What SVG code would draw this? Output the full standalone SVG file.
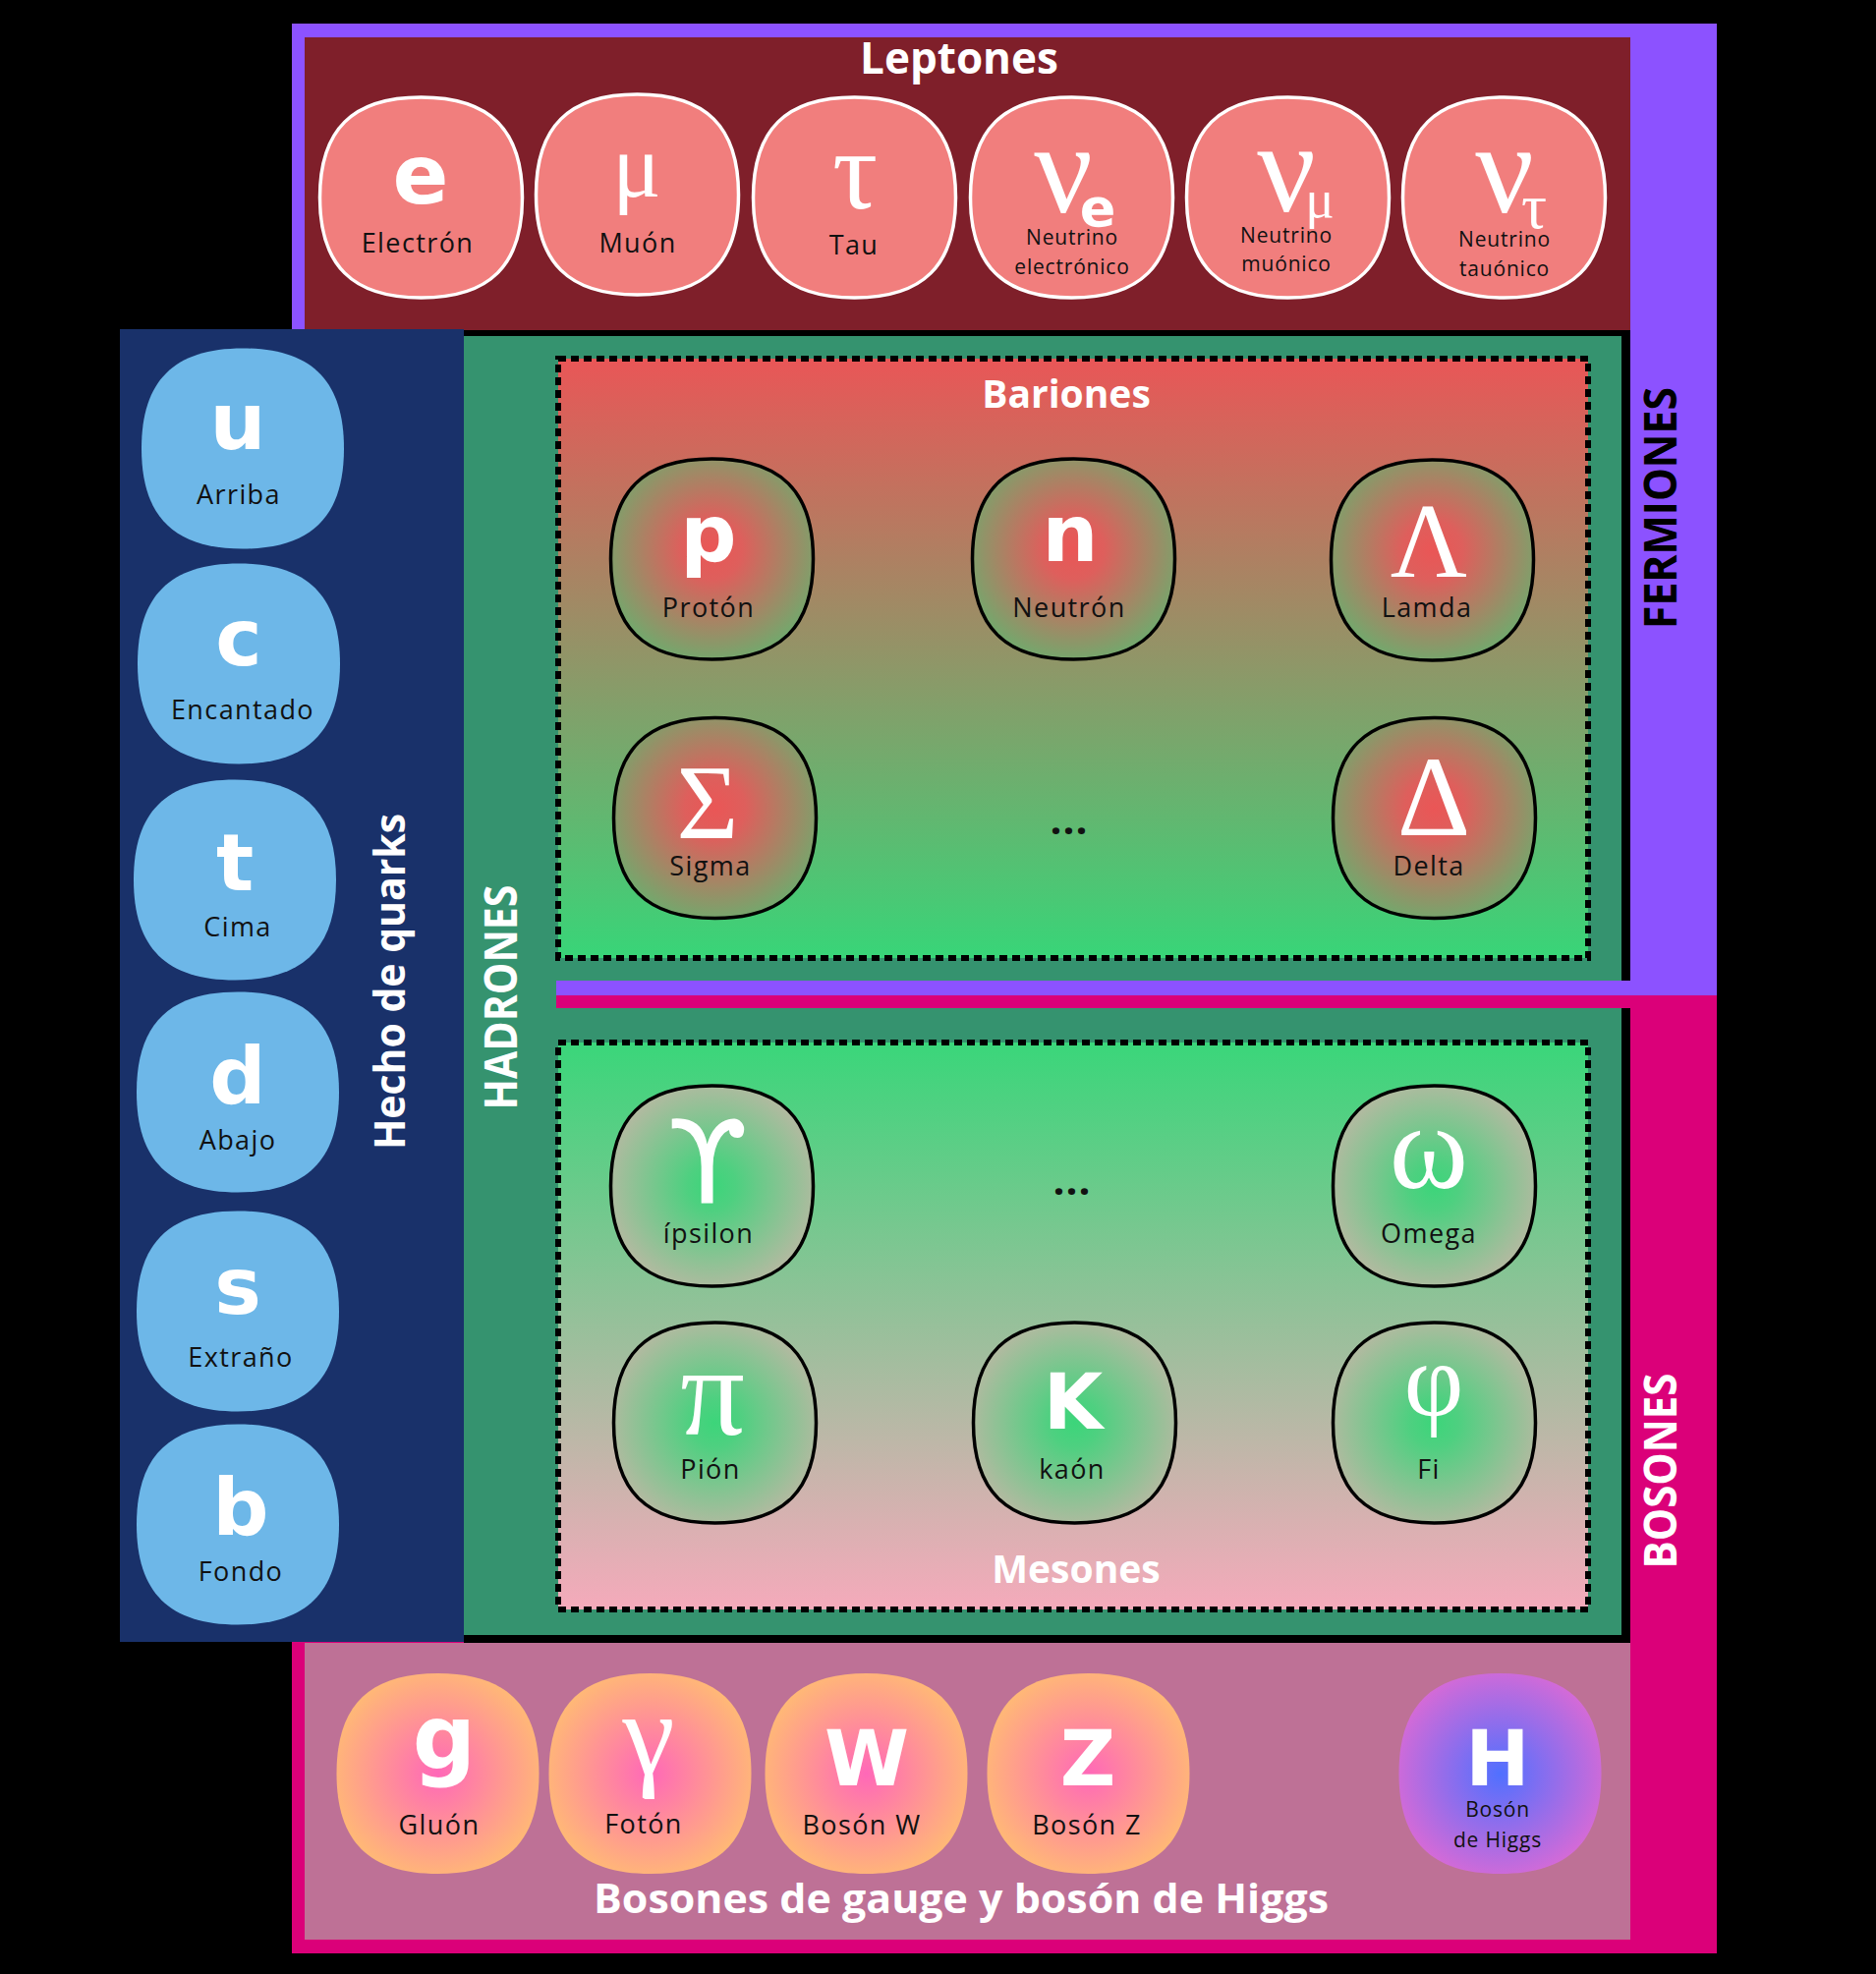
<svg xmlns="http://www.w3.org/2000/svg" width="1909" height="2009" viewBox="0 0 1909 2009">
<defs>
<linearGradient id="gBar" x1="0" y1="0" x2="0" y2="1"><stop offset="0" stop-color="#E95657"/><stop offset="1" stop-color="#38D578"/></linearGradient>
<linearGradient id="gMes" x1="0" y1="0" x2="0" y2="1"><stop offset="0" stop-color="#3AD67A"/><stop offset="1" stop-color="#F5AABB"/></linearGradient>
<radialGradient id="rBar" cx="0.5" cy="0.45" r="0.6"><stop offset="0" stop-color="#EA5656"/><stop offset="0.25" stop-color="#DE5F5C"/><stop offset="1" stop-color="#6AAE6E"/></radialGradient>
<radialGradient id="rMes" cx="0.5" cy="0.5" r="0.6"><stop offset="0" stop-color="#3CD57A"/><stop offset="0.2" stop-color="#4ED080"/><stop offset="1" stop-color="#C4B6A6"/></radialGradient>
<radialGradient id="rGauge" cx="0.5" cy="0.5" r="0.55"><stop offset="0" stop-color="#FF68B8"/><stop offset="1" stop-color="#FFBB74"/></radialGradient>
<radialGradient id="rHiggs" cx="0.5" cy="0.5" r="0.55"><stop offset="0" stop-color="#5070FF"/><stop offset="1" stop-color="#D86AD6"/></radialGradient>
<path id="sq" d="M0,-102 c70,0 103,33 103,102 c0,69 -33,102 -103,102 c-70,0 -103,-33 -103,-102 c0,-69 33,-102 103,-102 Z"/>
</defs>
<style>
.lep{fill:#F17E7D;stroke:#FFFFFF;stroke-width:3.5}
.qk{fill:#6DB7E8}
.bar{fill:url(#rBar);stroke:#000;stroke-width:3.5}
.mes{fill:url(#rMes);stroke:#000;stroke-width:3.5}
.gau{fill:url(#rGauge)}
.hig{fill:url(#rHiggs)}
.lbl{font-family:"Open Sans","Noto Sans",sans-serif;font-size:27px;fill:#111;text-anchor:middle;letter-spacing:1.4px}
.sm{font-size:21px;letter-spacing:0.8px}
.sym{font-family:"DejaVu Sans",sans-serif;font-weight:bold;fill:#fff;text-anchor:middle}
.gk{font-family:"Liberation Serif","DejaVu Serif",serif;fill:#fff;text-anchor:middle}
.ttl{font-family:"Open Sans","Noto Sans",sans-serif;font-weight:bold;fill:#fff;text-anchor:middle}
.dash{stroke:#000;stroke-width:6;stroke-dasharray:8 5}
.dots{font-family:"Open Sans",sans-serif;font-weight:bold;font-size:42px;fill:#111;text-anchor:middle;letter-spacing:1px}
</style>
<rect width="1909" height="2009" fill="#000"/>
<g id="frames">
<rect x="297" y="24" width="1450" height="989" fill="#8C52FF"/>
<rect x="297" y="1013" width="1450" height="975" fill="#DB0079"/>
<rect x="310" y="38" width="1349" height="298" fill="#7F1F2A"/>
<rect x="472" y="336" width="1187" height="1336" fill="#000"/>
<rect x="472" y="342" width="1178" height="1322" fill="#35936F"/>
<rect x="122" y="335" width="350" height="1336" fill="#19316A"/>
<rect x="310" y="1672" width="1349" height="302" fill="#BE7196"/>
<rect x="566" y="998" width="1181" height="15" fill="#8C52FF"/>
<rect x="566" y="1013" width="1181" height="13" fill="#DB0079"/>
<rect x="568" y="365" width="1048" height="610" fill="url(#gBar)" class="dash"/>
<rect x="568" y="1061" width="1048" height="577" fill="url(#gMes)" class="dash"/>
</g>
<g id="titles">
<text class="ttl" x="976" y="75" font-size="44">Leptones</text>
<text class="ttl" x="1085" y="415" font-size="39">Bariones</text>
<text class="ttl" x="1095" y="1611" font-size="39">Mesones</text>
<text class="ttl" x="978" y="1947" font-size="42" textLength="748" lengthAdjust="spacingAndGlyphs">Bosones de gauge y bosón de Higgs</text>
<text class="ttl" transform="translate(412,999) rotate(-90)" font-size="43" textLength="342" lengthAdjust="spacingAndGlyphs">Hecho de quarks</text>
<text class="ttl" transform="translate(526,1015) rotate(-90)" font-size="47" textLength="229" lengthAdjust="spacingAndGlyphs">HADRONES</text>
<text class="ttl" transform="translate(1706,517) rotate(-90)" font-size="47" style="fill:#000" textLength="246" lengthAdjust="spacingAndGlyphs">FERMIONES</text>
<text class="ttl" transform="translate(1706,1497) rotate(-90)" font-size="47" textLength="199" lengthAdjust="spacingAndGlyphs">BOSONES</text>
</g>
<g id="leptones">
<g id="n-electron"><use href="#sq" class="lep" x="428.5" y="201"/><text class="sym" x="428" y="207" font-size="84">e</text><text class="lbl" x="425" y="257">Electrón</text></g>
<g id="n-muon"><use href="#sq" class="lep" x="648.5" y="198"/><text class="gk" x="648" y="200" font-size="92">μ</text><text class="lbl" x="649" y="257">Muón</text></g>
<g id="n-tau"><use href="#sq" class="lep" x="869.5" y="201"/><text class="gk" x="870" y="212" font-size="115">τ</text><text class="lbl" x="869" y="259">Tau</text></g>
<g id="n-nue"><use href="#sq" class="lep" x="1090.5" y="201"/><text class="gk" x="1082" y="216" font-size="132">ν</text><text class="sym" x="1117" y="230" font-size="54">e</text><text class="lbl sm" x="1091" y="249">Neutrino</text><text class="lbl sm" x="1091" y="279">electrónico</text></g>
<g id="n-numu"><use href="#sq" class="lep" x="1310.5" y="201"/><text class="gk" x="1309" y="215" font-size="132">ν</text><text class="gk" x="1343" y="221" font-size="55">μ</text><text class="lbl sm" x="1309" y="247">Neutrino</text><text class="lbl sm" x="1309" y="276">muónico</text></g>
<g id="n-nutau"><use href="#sq" class="lep" x="1530.5" y="201"/><text class="gk" x="1531" y="216" font-size="132">ν</text><text class="gk" x="1561" y="232" font-size="65">τ</text><text class="lbl sm" x="1531" y="251">Neutrino</text><text class="lbl sm" x="1531" y="281">tauónico</text></g>
</g>
<g id="quarks">
<g id="n-u"><use href="#sq" class="qk" x="247" y="456.5"/><text class="sym" x="242" y="457" font-size="80">u</text><text class="lbl" x="243" y="513">Arriba</text></g>
<g id="n-c"><use href="#sq" class="qk" x="243" y="675.5"/><text class="sym" x="243" y="677" font-size="80">c</text><text class="lbl" x="247" y="732">Encantado</text></g>
<g id="n-t"><use href="#sq" class="qk" x="239" y="895.5"/><text class="sym" x="239" y="906" font-size="80">t</text><text class="lbl" x="242" y="953">Cima</text></g>
<g id="n-d"><use href="#sq" class="qk" x="242" y="1111.5"/><text class="sym" x="242" y="1123" font-size="80">d</text><text class="lbl" x="242" y="1170">Abajo</text></g>
<g id="n-s"><use href="#sq" class="qk" x="242" y="1334.5"/><text class="sym" x="242" y="1337" font-size="80">s</text><text class="lbl" x="245" y="1391">Extraño</text></g>
<g id="n-b"><use href="#sq" class="qk" x="242" y="1551.5"/><text class="sym" x="245" y="1562" font-size="80">b</text><text class="lbl" x="245" y="1609">Fondo</text></g>
</g>
<g id="bariones">
<g id="n-proton"><use href="#sq" class="bar" x="724.5" y="569"/><text class="sym" x="721" y="571" font-size="80">p</text><text class="lbl" x="721" y="628">Protón</text></g>
<g id="n-neutron"><use href="#sq" class="bar" x="1092.5" y="569"/><text class="sym" x="1089" y="571" font-size="80">n</text><text class="lbl" x="1088" y="628">Neutrón</text></g>
<g id="n-lamda"><use href="#sq" class="bar" x="1457.5" y="570"/><text class="gk" x="1454" y="587" font-size="108">Λ</text><text class="lbl" x="1452" y="628">Lamda</text></g>
<g id="n-sigma"><use href="#sq" class="bar" x="727.5" y="832.5"/><text class="gk" x="720" y="853" font-size="108">Σ</text><text class="lbl" x="723" y="891">Sigma</text></g>
<g id="n-delta"><use href="#sq" class="bar" x="1459.5" y="832.5"/><text class="gk" x="1459" y="850" font-size="116">Δ</text><text class="lbl" x="1454" y="891">Delta</text></g>
<text class="dots" x="1088" y="849">...</text>
</g>
<g id="mesones">
<g id="n-ipsilon"><use href="#sq" class="mes" x="724.5" y="1207"/><text class="sym" x="720" y="1225" font-size="118" style="font-weight:normal">ϒ</text><text class="lbl" x="721" y="1265">ípsilon</text></g>
<g id="n-omega"><use href="#sq" class="mes" x="1459.5" y="1207"/><text class="gk" x="1454" y="1209" font-size="122">ω</text><text class="lbl" x="1454" y="1265">Omega</text></g>
<g id="n-pion"><use href="#sq" class="mes" x="727.5" y="1448"/><text class="gk" x="725" y="1460" font-size="130">π</text><text class="lbl" x="723" y="1505">Pión</text></g>
<g id="n-kaon"><use href="#sq" class="mes" x="1093.5" y="1448"/><text class="sym" x="1092" y="1454" font-size="78">K</text><text class="lbl" x="1091" y="1505">kaón</text></g>
<g id="n-fi"><use href="#sq" class="mes" x="1459.5" y="1448"/><text class="gk" x="1459" y="1440" font-size="105">φ</text><text class="lbl" x="1454" y="1505">Fi</text></g>
<text class="dots" x="1091" y="1216">...</text>
</g>
<g id="bosones">
<g id="n-gluon"><use href="#sq" class="gau" x="445.5" y="1805"/><text class="sym" x="452" y="1800" font-size="90">g</text><text class="lbl" x="447" y="1867">Gluón</text></g>
<g id="n-foton"><use href="#sq" class="gau" x="661.5" y="1805"/><text class="gk" x="660" y="1805" font-size="120">γ</text><text class="lbl" x="655" y="1866">Fotón</text></g>
<g id="n-w"><use href="#sq" class="gau" x="881.5" y="1805"/><text class="sym" x="882" y="1817" font-size="78">W</text><text class="lbl" x="877" y="1867">Bosón W</text></g>
<g id="n-z"><use href="#sq" class="gau" x="1107.5" y="1805"/><text class="sym" x="1107" y="1817" font-size="78">Z</text><text class="lbl" x="1106" y="1867">Bosón Z</text></g>
<g id="n-higgs"><use href="#sq" class="hig" x="1526.5" y="1805"/><text class="sym" x="1524" y="1817" font-size="78">H</text><text class="lbl sm" x="1524" y="1849">Bosón</text><text class="lbl sm" x="1524" y="1880">de Higgs</text></g>
</g>
<g id="connectors"></g>
</svg>
